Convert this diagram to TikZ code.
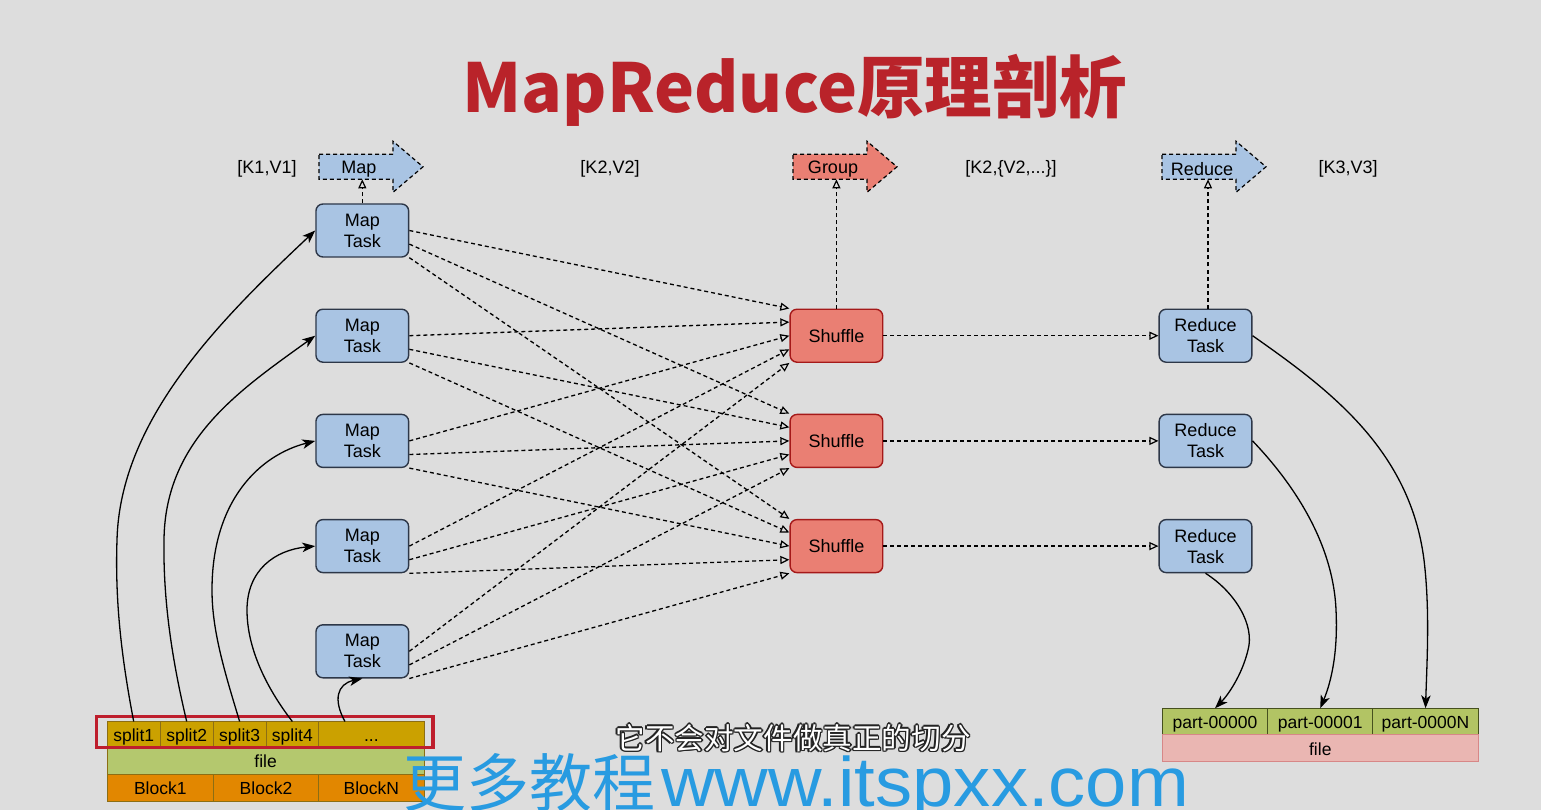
\documentclass[tikz,border=0pt]{standalone}
\usepackage{fontspec}
\setmainfont{Liberation Sans}
\newfontfamily\cjk{Noto Sans CJK SC}
\usetikzlibrary{arrows.meta,calc}

\definecolor{bg}{RGB}{221,221,221}
\definecolor{taskblue}{RGB}{169,196,227}
\definecolor{taskborder}{RGB}{45,55,72}
\definecolor{shuffill}{RGB}{234,127,115}
\definecolor{shufborder}{RGB}{165,25,25}
\definecolor{splitfill}{RGB}{203,161,0}
\definecolor{splitborder}{RGB}{140,110,20}
\definecolor{filegreen}{RGB}{180,200,110}
\definecolor{blockorange}{RGB}{226,135,0}
\definecolor{partgreen}{RGB}{178,196,100}
\definecolor{partborder}{RGB}{70,80,30}
\definecolor{filepink}{RGB}{234,182,178}
\definecolor{pinkborder}{RGB}{215,135,135}
\definecolor{titlered}{RGB}{185,35,42}
\definecolor{wmblue}{RGB}{40,155,225}
\definecolor{redbox}{RGB}{190,30,45}
\definecolor{subdark}{RGB}{35,35,35}

\tikzset{
  task/.style={draw=taskborder, fill=taskblue, line width=1.4pt, rounded corners=7pt,
    minimum width=92.7pt, minimum height=53pt, align=center, inner sep=0pt,
    font=\fontsize{18}{21}\selectfont},
  shuf/.style={task, draw=shufborder, fill=shuffill},
  lbl/.style={font=\fontsize{18}{21}\selectfont, inner sep=0pt},
  dflow/.style={line width=1.3pt, dash pattern=on 4pt off 3pt,
    -{Triangle[open,length=9pt,width=8pt,line width=1.2pt]}},
  sflow/.style={line width=1.3pt, -{Stealth[length=13pt,width=9.5pt,inset=3.5pt]}},
  arrowshape/.style={line width=1.2pt, dash pattern=on 4pt off 3pt, draw=black},
  cell/.style={anchor=north west, inner sep=0pt, outer sep=0pt, line width=1pt,
    font=\fontsize{17.5}{20}\selectfont, text depth=0pt, text height=14pt},
  subt/.style={font=\cjk\fontsize{29.6}{30}\selectfont, inner sep=0pt},
}

\newcommand\blockarr[2]{%
  \draw[arrowshape, fill=#2] (#1,154.3) -- ++(74,0) -- ++(0,-13) -- ++(30,25.5)
    -- ++(-30,25.5) -- ++(0,-13) -- ++(-74,0) -- cycle;}

\begin{document}
\begin{tikzpicture}[x=1pt,y=-1pt]
\fill[bg] (0,0) rectangle (1541,810);
\useasboundingbox (0,0) rectangle (1541,810);
\clip (0,0) rectangle (1541,810);

% title
\node[anchor=base, text=titlered, inner sep=0pt,
  font=\cjk\bfseries\fontsize{67.5}{68}\selectfont] (title) at (795,112.7) {MapReduce原理剖析};

% phase arrows
\blockarr{319}{taskblue}
\blockarr{793}{shuffill}
\blockarr{1162}{taskblue}
\node[lbl] (maplbl) at (359,169) {Map};
\node[lbl] (grplbl) at (833,169) {Group};
\node[lbl] (redlbl) at (1202,169) {Reduce};
\coordinate (mapin) at (362.3,179.3);
\coordinate (grpin) at (836.4,179.3);
\coordinate (redin) at (1208,179.3);

% kv labels
\node[lbl] (kv1) at (267,169) {[K1,V1]};
\node[lbl] (kv2) at (610,169) {[K2,V2]};
\node[lbl] (kv3) at (1011,169) {[K2,\{V2,...\}]};
\node[lbl] (kv4) at (1348,169) {[K3,V3]};

% map tasks
\node[task] (m1) at (362.3,230.5) {Map\\Task};
\node[task] (m2) at (362.3,335.7) {Map\\Task};
\node[task] (m3) at (362.3,440.9) {Map\\Task};
\node[task] (m4) at (362.3,546.1) {Map\\Task};
\node[task] (m5) at (362.3,651.3) {Map\\Task};

% shuffles
\node[shuf] (s1) at (836.4,335.7) {Shuffle};
\node[shuf] (s2) at (836.4,440.9) {Shuffle};
\node[shuf] (s3) at (836.4,546.1) {Shuffle};

% reduce tasks
\node[task] (r1) at (1205.5,335.7) {Reduce\\Task};
\node[task] (r2) at (1205.5,440.9) {Reduce\\Task};
\node[task] (r3) at (1205.5,546.1) {Reduce\\Task};

% vertical dashed arrows
\draw[dflow] (m1.north) -- (mapin);
\draw[dflow] (s1.north) -- (grpin);
\draw[dflow] ([xshift=2.5pt]r1.north) -- (redin);

% map -> shuffle
\foreach \i in {1,...,5} {
  \pgfmathsetmacro\k{(\i-1)/4}
  \draw[dflow] (m\i.east) -- ($(s1.north west)!\k!(s1.south west)$);
  \draw[dflow] ($(m\i.east)!.5!(m\i.south east)$) -- ($(s2.north west)!\k!(s2.south west)$);
  \draw[dflow] (m\i.south east) -- ($(s3.north west)!\k!(s3.south west)$);
}

% shuffle -> reduce
\draw[dflow] (s1.east) -- (r1.west);
\draw[dflow] (s2.east) -- (r2.west);
\draw[dflow] (s3.east) -- (r3.west);

% input file
\node[cell, draw=splitborder, fill=splitfill, minimum width=52.8pt, minimum height=25pt] (sp1) at (107.3,721.5) {split1};
\node[cell, draw=splitborder, fill=splitfill, minimum width=53.2pt, minimum height=25pt] (sp2) at (160.1,721.5) {split2};
\node[cell, draw=splitborder, fill=splitfill, minimum width=52.7pt, minimum height=25pt] (sp3) at (213.3,721.5) {split3};
\node[cell, draw=splitborder, fill=splitfill, minimum width=52.7pt, minimum height=25pt] (sp4) at (266,721.5) {split4};
\node[cell, draw=splitborder, fill=splitfill, minimum width=105.3pt, minimum height=25pt] (spd) at (318.7,721.5) {...};
\node[cell, draw=splitborder, fill=filegreen, minimum width=316.7pt, minimum height=27.5pt] (lfile) at (107.3,746.5) {file};
\node[cell, draw=splitborder, fill=blockorange, minimum width=106pt, minimum height=27pt] (b1) at (107.3,774) {Block1};
\node[cell, draw=splitborder, fill=blockorange, minimum width=105.4pt, minimum height=27pt] (b2) at (213.3,774) {Block2};
\node[cell, draw=splitborder, fill=blockorange, minimum width=105.3pt, minimum height=27pt] (bN) at (318.7,774) {BlockN};
\draw[redbox, line width=3.5pt] (96.7,716.7) rectangle (433,747.3);
\coordinate (spdout) at (345,721.5);

% output file
\node[cell, draw=partborder, fill=partgreen, minimum width=105.4pt, minimum height=26pt] (p1) at (1162.3,708.3) {part-00000};
\node[cell, draw=partborder, fill=partgreen, minimum width=105pt, minimum height=26pt] (p2) at (1267.7,708.3) {part-00001};
\node[cell, draw=partborder, fill=partgreen, minimum width=105.6pt, minimum height=26pt] (p3) at (1372.7,708.3) {part-0000N};
\node[cell, draw=pinkborder, fill=filepink, minimum width=316pt, minimum height=27.4pt] (rfile) at (1162.3,734.3) {file};

% split -> map curves
\draw[sflow] (sp1.north) .. controls (121,655) and (115,600) .. (117,540)
  .. controls (120,420) and (220,320) .. (m1.west);
\draw[sflow] (sp2.north) .. controls (172,660) and (163,600) .. (164,540)
  .. controls (165,440) and (240,390) .. (m2.west);
\draw[sflow] (sp3.north) .. controls (224,670) and (212,630) .. (212,590)
  .. controls (212,500) and (260,455) .. (m3.west);
\draw[sflow] (sp4.north) .. controls (268,690) and (247,650) .. (247,610)
  .. controls (247,570) and (275,550) .. (m4.west);
\draw[sflow] (spdout) .. controls (333,700) and (337,684) .. (m5.south);

% reduce -> part curves
\draw[sflow] (r1.east) .. controls (1330,390) and (1410,450) .. (1424,560)
  .. controls (1430,610) and (1427,660) .. (p3.north);
\draw[sflow] (r2.east) .. controls (1290,480) and (1333,540) .. (1336,610)
  .. controls (1338,650) and (1332,680) .. (p2.north);
\draw[sflow] (r3.south) .. controls (1235,592) and (1255,625) .. (1248,650)
  .. controls (1242,675) and (1228,695) .. (p1.north);

% subtitle (outlined)
\foreach \dx/\dy [count=\n] in {-1.5/0,1.5/0,0/-1.5,0/1.5,-1.1/-1.1,1.1/1.1,-1.1/1.1,1.1/-1.1}
  \node[subt, text=subdark] (subo\n) at (793+\dx,738+\dy) {它不会对文件做真正的切分};
\node[subt, text=white] (subtitle) at (793,738) {它不会对文件做真正的切分};

% watermark
\node[anchor=base west, inner sep=0pt, text=wmblue] (wm) at (403,806)
  {{\cjk\fontsize{63}{63}\selectfont 更多教程}\hspace{6pt}\scalebox{1.06}[1]{\fontsize{70}{70}\selectfont www.itspxx.com}};
\end{tikzpicture}
\end{document}
